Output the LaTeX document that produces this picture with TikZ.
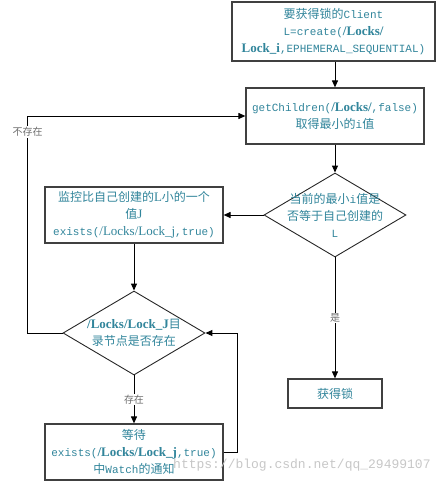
\documentclass[tikz,border=0pt]{standalone}
\usepackage{fontspec}
\setmainfont{Liberation Serif}
\newfontfamily\cjkfont{Noto Sans CJK SC}
\newfontfamily\monofont{Liberation Mono}
\usetikzlibrary{shapes.geometric,arrows.meta}
\definecolor{teal1}{RGB}{49,133,155}
\definecolor{lblgray}{RGB}{110,110,110}
\newcommand\tM[1]{{\monofont\fontsize{11}{17}\selectfont #1}}
\newcommand\tB[1]{{\rmfamily\bfseries\fontsize{13}{17}\selectfont #1}}
\newcommand\tR[1]{{\rmfamily\fontsize{13}{17}\selectfont #1}}
\tikzset{
  box/.style={draw=black!75, line width=1.2pt, fill=white, inner sep=0pt, align=center,
    text=teal1, font=\cjkfont\fontsize{12}{17}\selectfont},
  dia/.style={draw=black!85, line width=0.9pt, diamond, inner sep=0pt,
    minimum width=142pt, minimum height=84pt},
  txt/.style={align=center, text=teal1, inner sep=0pt, font=\cjkfont\fontsize{12}{17}\selectfont},
  arr/.style={draw=black, line width=1pt, -{Triangle[length=7pt,width=6pt]}},
  lbl/.style={fill=white, inner sep=1pt, text=lblgray, font=\cjkfont\fontsize{10}{12}\selectfont}
}
\begin{document}
\begin{tikzpicture}[x=1pt,y=-1pt]
\useasboundingbox (0,0) rectangle (442,483);
\node[box, minimum width=203pt, minimum height=59pt] (start) at (333.5,31.5)
  {要获得锁的\tM{Client}\\\tM{L=create(}\tB{/Locks/}\\\tB{Lock\_i}\tM{,EPHEMERAL\_SEQUENTIAL)}};
\node[box, minimum width=178pt, minimum height=56pt] (getc) at (335,116)
  {\tM{getChildren(}\tB{/Locks/}\tM{,false)}\\取得最小的\tM{i}值};
\node[dia] (d1) at (335,215) {};
\node[txt] (d1t) at (335,215) {当前的最小\tM{i}值是\\否等于自己创建的\\\tM{L}};
\node[box, minimum width=178pt, minimum height=56pt] (mon) at (134,215)
  {监控比自己创建的\tR{L}小的一个\\值\tR{J}\\\tM{exists(}\tR{/Locks/Lock\_j}\tM{,true)}};
\node[dia] (d2) at (134,333) {};
\node[txt] (d2t) at (134,333) {\tB{/Locks/Lock\_J}目\\录节点是否存在};
\node[box, minimum width=178pt, minimum height=56pt] (wait) at (134,452)
  {等待\\\tM{exists(}\tB{/Locks/Lock\_j}\tM{,true)}\\中\tM{Watch}的通知};
\node[box, minimum width=94pt, minimum height=29pt] (ok) at (335,393.5) {获得锁};

\draw[arr] (getc.north |- start.south) -- (getc.north);
\draw[arr] (getc.south) -- (d1.north);
\draw[arr] (d1.west) -- (mon.east);
\draw[arr] (mon.south) -- (d2.north);
\draw[arr] (d2.south) -- (wait.north) node[lbl, pos=0.5] (l1) {存在};
\draw[arr] (d1.south) -- (ok.north) node[lbl, pos=0.5] (l2) {是};
\draw[arr] (wait.east) -- ++(14,0) |- (d2.east);
\draw[arr] (d2.west) -- ++(-35,0) coordinate (lb) |- (getc.west);
\node[lbl] (l3) at (lb |- 0,132) {不存在};

\node[anchor=base west, inner sep=0pt, text=black!22, font=\monofont\fontsize{13}{13}\selectfont]
  (wm) at (173,468) {https://blog.csdn.net/qq\_29499107};
\end{tikzpicture}
\end{document}
